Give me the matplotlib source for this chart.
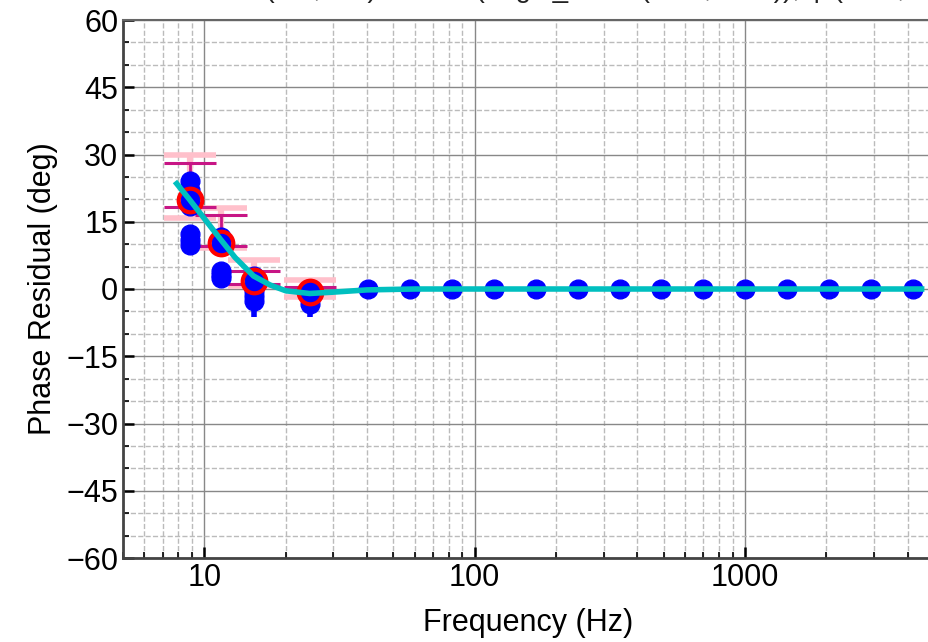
import matplotlib
matplotlib.use("Agg")
import matplotlib.pyplot as plt
from matplotlib.ticker import FixedLocator, NullFormatter, MultipleLocator

plt.rcParams['font.family'] = ['Liberation Sans', 'DejaVu Sans']

# measured points (blue), several per low frequency
blue_f = [8.82, 8.82, 8.82, 8.82, 8.82, 8.82, 8.82,
          11.5, 11.5, 11.5, 11.5, 11.5, 11.5,
          15.2, 15.2, 15.2, 15.2, 15.2, 15.2,
          24.5, 24.5, 24.5, 24.5]
blue_y = [24.0, 22.0, 20.0, 18.5, 12.3, 11.0, 9.8,
          11.6, 10.5, 9.6, 4.0, 3.2, 2.5,
          2.9, 1.5, 0.5, -0.5, -1.5, -2.7,
          0.0, -1.0, -2.0, -3.3]

# lower error tails on the blue points
tail_f = [15.2, 24.5]
tail_y = [-2.7, -3.3]
tail_lo = [3.5, 2.9]

# flat high-frequency points
flat_f = [40.3, 57.6, 82.3, 117.6, 168.1, 240.2, 343.3, 490.6,
          701.1, 1002, 1432, 2046, 2924, 4179]
flat_y = [0.0] * len(flat_f)

# averaged points (red open circles)
mean_f = [8.82, 11.5, 15.2, 24.5]
mean_y = [19.9, 10.3, 1.8, -0.7]

# pink / magenta error bars
pink_y = [22.85, 13.55, 3.6, 0.1]
pink_err = [7.05, 4.45, 2.9, 1.8]
mag_y = [23.3, 13.15, 2.6, 0.0]
mag_err = [4.9, 3.45, 1.5, 0.5]

# fitted curve
fit_f = [7.9, 8.8, 10.0, 11.5, 13.0, 15.2, 17.5, 20.0, 24.5, 30.0, 40.0,
         60.0, 100.0, 300.0, 1000.0, 4500.0]
fit_y = [23.5, 20.0, 15.7, 11.0, 7.0, 2.9, 0.9, -0.4, -1.0, -0.7, -0.2,
         0.0, 0.0, 0.0, 0.0, 0.0]

fig = plt.figure(figsize=(9.29, 6.42), dpi=100)
ax = fig.add_axes([123 / 929, 84 / 642, 811 / 929, 538 / 642])

ax.errorbar(mean_f, pink_y, yerr=pink_err, fmt='none', ecolor='pink',
            elinewidth=4.5, capsize=19, capthick=4, zorder=2)
ax.errorbar(mean_f, mag_y, yerr=mag_err, fmt='none', ecolor='mediumvioletred',
            elinewidth=2, capsize=19, capthick=2.2, zorder=2)

ax.errorbar(tail_f, tail_y, yerr=[tail_lo, [0, 0]], fmt='none', ecolor='blue',
            elinewidth=4, capsize=0, zorder=3)
ax.plot(blue_f, blue_y, 'o', color='blue', ms=13.5, zorder=3)
ax.plot(flat_f, flat_y, 'o', color='blue', ms=13.5, zorder=3)

ax.plot(mean_f, mean_y, 'o', mfc='none', mec='red', ms=17, mew=3, zorder=4)

ax.plot(fit_f, fit_y, '-', color='c', lw=4, zorder=5)

ax.set_xscale('log')
ax.set_xlim(5, 5000)
ax.set_ylim(-60, 60)
ax.xaxis.set_major_locator(FixedLocator([10, 100, 1000]))
ax.set_xticklabels(['10', '100', '1000'])
ax.xaxis.set_minor_locator(FixedLocator(
    [m * 10 ** d for d in range(0, 4) for m in range(2, 10)]))
ax.xaxis.set_minor_formatter(NullFormatter())
ax.yaxis.set_major_locator(MultipleLocator(15))
ax.yaxis.set_minor_locator(MultipleLocator(5))

ax.grid(which='major', color='#888888', linestyle='-', linewidth=1.0)
ax.grid(which='minor', color='#bbbbbb', linestyle='--', linewidth=1.0)
ax.set_axisbelow(True)

ax.tick_params(which='major', direction='in', length=8, width=1.8,
               labelsize=22, top=False, right=False, colors='black')
ax.tick_params(which='minor', direction='in', length=4, width=1.2,
               top=False, right=False)
for s in ['left', 'bottom']:
    ax.spines[s].set_color('#444444')
    ax.spines[s].set_linewidth(2)
ax.spines['top'].set_color('#666666')
ax.spines['top'].set_linewidth(1.5)

ax.set_xlabel('Frequency (Hz)', fontsize=22, labelpad=11)
ax.set_ylabel('Phase Residual (deg)', fontsize=22, labelpad=6)
ax.set_title('Phase fit: tau (0.7, 1.0)  model (begin_scale (0.87, 0.95)), φ (0.05, 1.0)',
             fontsize=20, pad=16.5, color='#222222')

fig.savefig('out.png', dpi=100)
